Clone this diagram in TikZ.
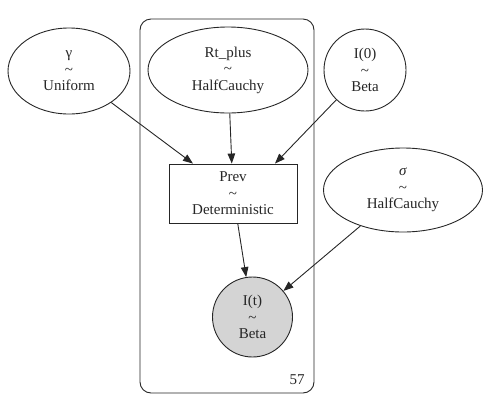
\documentclass[tikz,border=0pt]{standalone}
\usepackage{fontspec}
\setmainfont{Liberation Serif}
\usetikzlibrary{shapes.geometric,arrows.meta}
\begin{document}
\begin{tikzpicture}[x=1pt,y=-1pt,
  lbl/.style={align=center,font=\fontsize{15}{16.5}\selectfont,text=black!85,inner sep=0pt},
  ell/.style={lbl,draw=black!85,line width=0.9pt,ellipse},
  circ/.style={lbl,draw=black!85,line width=0.9pt,circle},
  detbox/.style={lbl,draw=black!85,line width=0.9pt,rectangle},
  edge/.style={draw=black!85,line width=0.9pt,-{Triangle[length=10pt,width=7.5pt]}}]
\useasboundingbox (0,0) rectangle (493,405);
\node[draw=black!85,line width=0.9pt,rounded corners=11pt,minimum width=174pt,minimum height=374pt,inner sep=0pt] (plate) at (227,206) {};
\node[lbl,anchor=center] (n57) at (297,380) {57};
\node[ell,minimum width=122pt,minimum height=86pt] (gamma) at (69,71) {γ\\\textasciitilde\\Uniform};
\node[ell,minimum width=160pt,minimum height=86pt] (rt) at (228,70) {Rt\_plus\\\textasciitilde\\HalfCauchy};
\node[circ,minimum size=82pt] (i0) at (365,70) {I(0)\\\textasciitilde\\Beta};
\node[detbox,minimum width=128pt,minimum height=59pt] (prev) at (233,193.5) {Prev\\\textasciitilde\\Deterministic};
\node[ell,minimum width=159pt,minimum height=84pt] (sigma) at (403,190) {\textit{σ}\\\textasciitilde\\HalfCauchy};
\node[circ,fill=black!17,minimum size=80pt] (it) at (252.5,317) {I(t)\\\textasciitilde\\Beta};
\draw[edge] (gamma) -- (prev);
\draw[edge] (rt) -- (prev);
\draw[edge] (i0) -- ([xshift=42pt]prev.north);
\draw[edge] (prev) -- (it);
\draw[edge] (sigma) -- (it);
\end{tikzpicture}
\end{document}
